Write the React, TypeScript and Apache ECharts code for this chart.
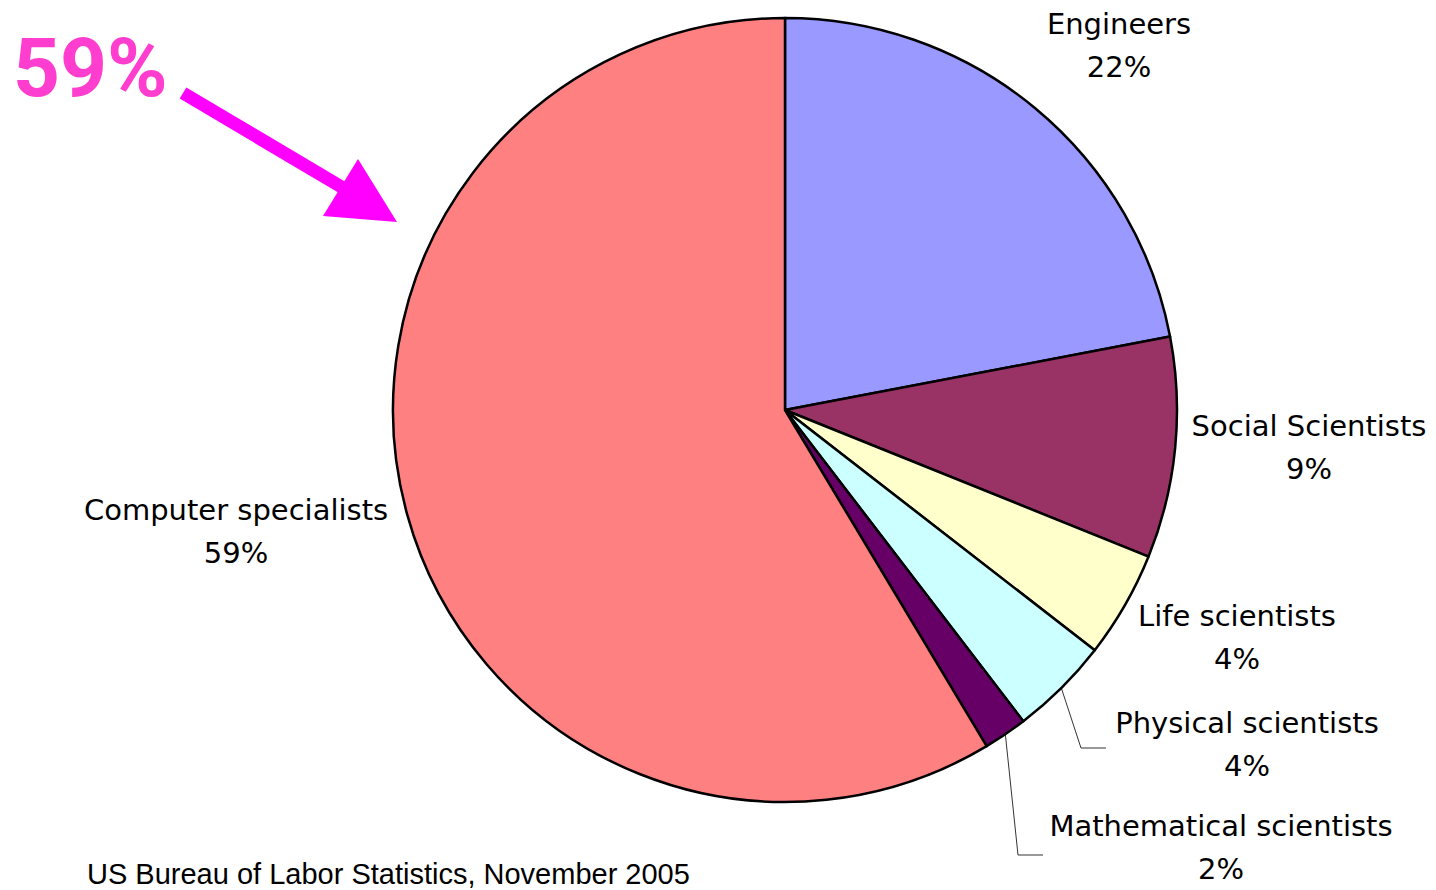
import React, { useEffect, useRef } from "react";
import * as echarts from "echarts";

// ---- data ----
const categories = [
  "Engineers",
  "Social Scientists",
  "Life scientists",
  "Physical scientists",
  "Mathematical scientists",
  "Computer specialists",
];
const shares = [22.0, 9.1, 4.4, 4.1, 1.8, 58.6];
const sourceNote = "US Bureau of Labor Statistics, November 2005";
const highlightIndex = 5;

// ---- styles / layout ----
const colors = ["#9999FF", "#993366", "#FFFFCC", "#CCFFFF", "#660066", "#FF8080"];
const showLeader = [false, false, false, true, true, false];
const labelPositions: number[][] = [
  [1119, 45],
  [1309, 447],
  [1237, 637],
  [1247, 744],
  [1221, 847],
  [236, 531],
];
const leaderEnds: (number[] | null)[] = [null, null, null, [1106, 748], [1043, 855], null];

export default function App() {
  const ref = useRef<HTMLDivElement>(null);
  useEffect(() => {
    if (!ref.current) return;
    const chart = echarts.init(ref.current, undefined, { renderer: "svg" });
    const option: any = {
      animation: false,
      backgroundColor: "#ffffff",
      series: [
        {
          type: "pie",
          center: [785, 410],
          radius: 392,
          startAngle: 90,
          clockwise: true,
          avoidLabelOverlap: false,
          silent: true,
          itemStyle: { borderColor: "#000000", borderWidth: 2.5 },
          label: {
            show: true,
            position: "outside",
            formatter: (p: any) => `${p.name}\n${Math.round(p.value)}%`,
            fontFamily: "DejaVu Sans",
            fontSize: 29,
            lineHeight: 43,
            color: "#000000",
            width: 440,
            overflow: "none",
          },
          labelLine: { show: false, lineStyle: { color: "#333333", width: 1 } },
          labelLayout: (params: any) => {
            const i = params.dataIndex;
            const pos = labelPositions[i];
            const res: any = { x: pos[0], y: pos[1], align: "center", verticalAlign: "middle" };
            const end = leaderEnds[i];
            if (end && params.labelLinePoints) {
              const start = params.labelLinePoints[0];
              res.labelLinePoints = [start, [end[0] - 25, end[1]], end];
            }
            return res;
          },
          data: categories.map((name, i) => ({
            name,
            value: shares[i],
            itemStyle: { color: colors[i] },
            labelLine: { show: showLeader[i] },
          })),
        },
      ],
      graphic: [
        {
          type: "text",
          x: 13,
          y: 68,
          style: {
            text: `${Math.round(shares[highlightIndex])}%`,
            font: "bold 82px Roboto",
            fill: "#FF3DCF",
            verticalAlign: "middle",
          },
        },
        {
          type: "line",
          shape: { x1: 183, y1: 93, x2: 350, y2: 192 },
          style: { stroke: "#FF00FF", lineWidth: 13 },
        },
        {
          type: "polygon",
          shape: { points: [[358, 159], [323, 216], [397, 222]] },
          style: { fill: "#FF00FF" },
        },
        {
          type: "text",
          x: 87,
          y: 874,
          style: {
            text: sourceNote,
            font: '29px "Liberation Sans"',
            fill: "#000000",
            verticalAlign: "middle",
          },
        },
      ],
    };
    chart.setOption(option);
    return () => chart.dispose();
  }, []);
  return (
    <div
      ref={ref}
      style={{ position: "fixed", left: 0, top: 0, width: 1436, height: 890, background: "#fff" }}
    />
  );
}
